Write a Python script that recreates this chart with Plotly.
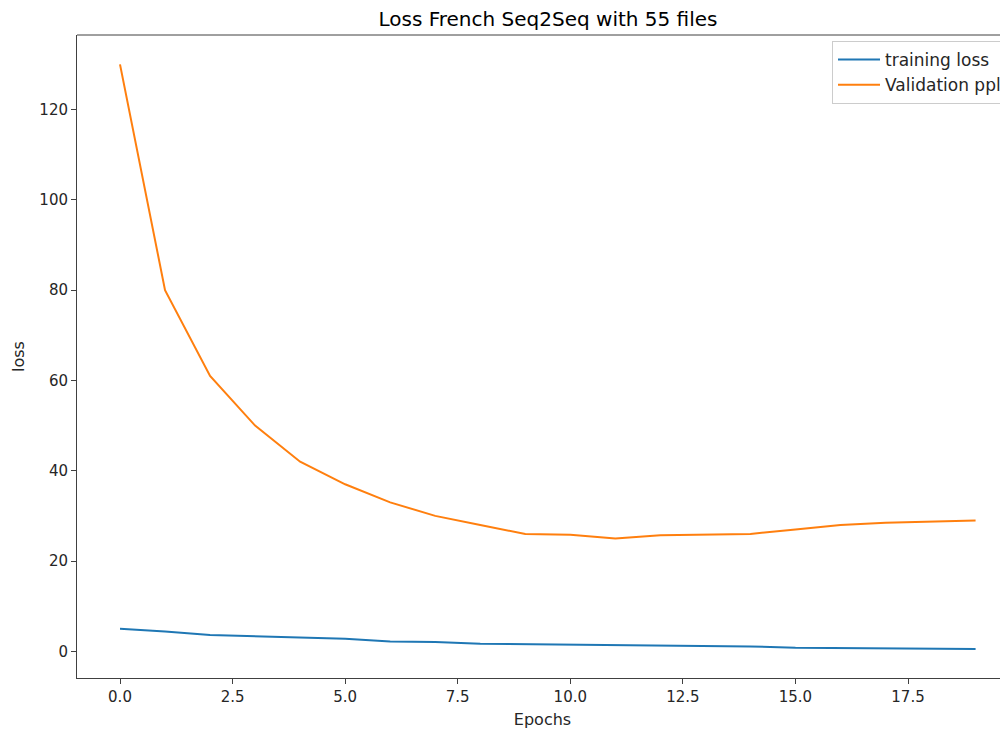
import plotly.graph_objects as go

epochs = list(range(20))
training_loss = [5.0, 4.4, 3.6, 3.3, 3.0, 2.8, 2.2, 2.1, 1.7, 1.6, 1.5, 1.4, 1.3, 1.2, 1.1, 0.8, 0.7, 0.7, 0.6, 0.5]
validation_ppl = [130.0, 80.0, 61.0, 50.0, 42.0, 37.0, 33.0, 30.0, 28.0, 26.0, 25.8, 25.0, 25.7, 25.9, 26.0, 27.0, 28.0, 28.5, 28.7, 29.0]

x_tickvals = [0, 2.5, 5, 7.5, 10, 12.5, 15, 17.5]
x_ticktext = ["0.0", "2.5", "5.0", "7.5", "10.0", "12.5", "15.0", "17.5"]
y_tickvals = [0, 20, 40, 60, 80, 100, 120]
y_ticktext = ["0", "20", "40", "60", "80", "100", "120"]

FONT = "DejaVu Sans"
TXT = "#262626"

fig = go.Figure()
fig.add_trace(go.Scatter(x=epochs, y=training_loss, mode="lines", name="training loss",
                         line=dict(color="#1f77b4", width=2)))
fig.add_trace(go.Scatter(x=epochs, y=validation_ppl, mode="lines", name="Validation ppl",
                         line=dict(color="#ff7f0e", width=2)))

fig.update_layout(
    width=1008, height=732,
    margin=dict(l=69, r=8, t=27, b=62),
    paper_bgcolor="white", plot_bgcolor="white",
    font=dict(family=FONT, size=15, color=TXT),
    title=dict(text="Loss French Seq2Seq with 55 files", x=540/1008, xref="container", xanchor="center",
               y=1-11/732, yref="container", yanchor="middle",
               font=dict(family=FONT, size=20, color="black")),
    showlegend=True,
    legend=dict(x=(832-77)/931, xanchor="left", y=1-(41-35)/643, yanchor="top",
                bgcolor="rgba(255,255,255,0.8)", bordercolor="#cccccc", borderwidth=1,
                itemwidth=42,
                font=dict(family=FONT, size=17, color=TXT), tracegroupgap=0),
    xaxis=dict(range=[-0.955, 19.72], tickvals=x_tickvals, ticktext=x_ticktext,
               showgrid=False, zeroline=False, showline=True, linecolor="#404040", linewidth=1,
               ticks="outside", ticklen=5, tickcolor="#404040",
               tickfont=dict(family=FONT, size=15, color=TXT),
               title=dict(text="Epochs", standoff=8, font=dict(family=FONT, size=16, color=TXT))),
    yaxis=dict(range=[-5.9, 136.5], tickvals=y_tickvals, ticktext=y_ticktext,
               showgrid=False, zeroline=False, showline=True, linecolor="#404040", linewidth=1,
               ticks="outside", ticklen=5, tickcolor="#404040",
               tickfont=dict(family=FONT, size=15, color=TXT),
               title=dict(text="loss", standoff=10, font=dict(family=FONT, size=16, color=TXT))),
    shapes=[dict(type="line", xref="paper", yref="paper", x0=0, x1=1, y0=1, y1=1,
                 line=dict(color="#404040", width=1))],
)

fig.write_html("out.html")
